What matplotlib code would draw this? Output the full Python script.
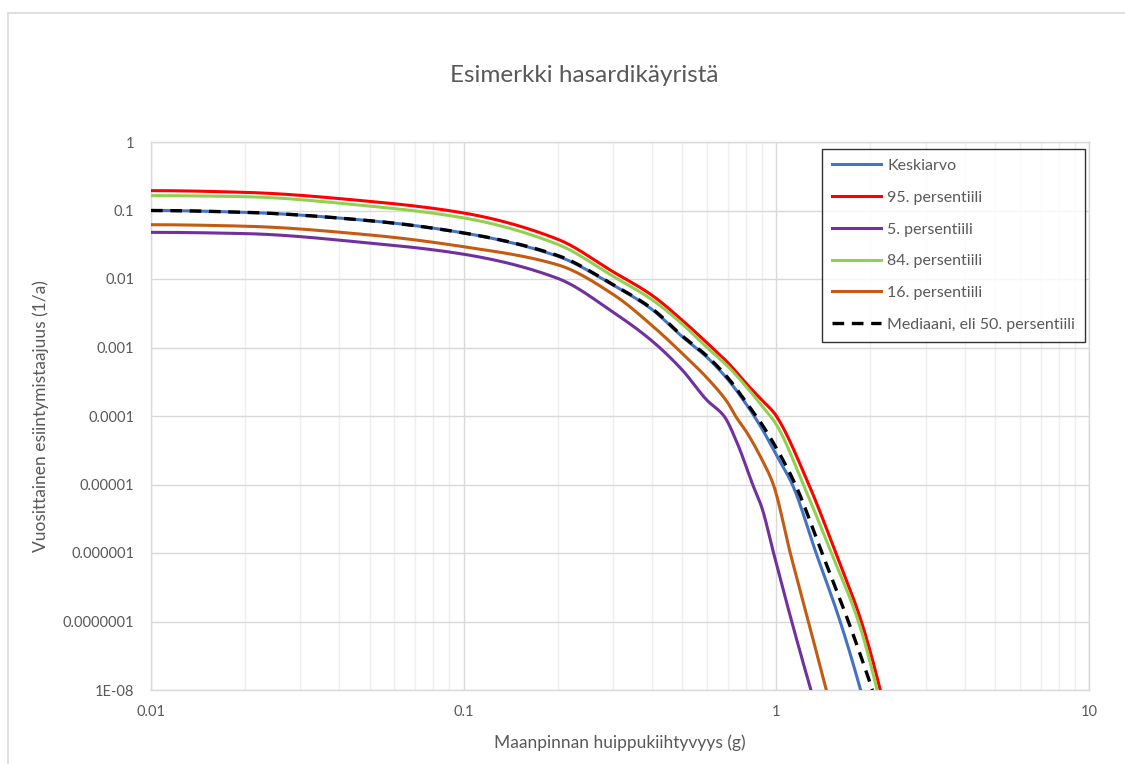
import numpy as np
import matplotlib
matplotlib.use("Agg")
import matplotlib.pyplot as plt
from matplotlib.lines import Line2D

plt.rcParams['font.family'] = ['Lato', 'DejaVu Sans']

# ---------------- data ----------------
title = "Esimerkki hasardikäyristä"
xlabel = "Maanpinnan huippukiihtyvyys (g)"
ylabel = "Vuosittainen esiintymistaajuus (1/a)"

x_ticks = [0.01, 0.1, 1, 10]
x_ticklabels = ["0.01", "0.1", "1", "10"]
y_ticks = [1e-8, 1e-7, 1e-6, 1e-5, 1e-4, 1e-3, 1e-2, 1e-1, 1]
y_ticklabels = ["1E-08", "0.0000001", "0.000001", "0.00001", "0.0001",
                "0.001", "0.01", "0.1", "1"]

mean_x = [0.01, 0.02, 0.05, 0.1, 0.2, 0.3, 0.4, 0.5, 0.6, 0.7, 0.8, 0.9, 1.0, 1.125, 1.34, 1.6, 1.86]
mean_y = [0.1, 0.094, 0.071, 0.047, 0.0215, 0.0082, 0.0036, 0.00144, 0.00072, 0.00034,
          0.00015, 6.5e-5, 2.7e-5, 1e-5, 1e-6, 1e-7, 1e-8]

p95_x = [0.01, 0.02, 0.05, 0.1, 0.2, 0.3, 0.4, 0.5, 0.6, 0.7, 0.8, 0.9, 0.97, 1.0, 1.27, 1.55, 1.87, 2.15]
p95_y = [0.195, 0.184, 0.136, 0.092, 0.038, 0.0128, 0.0058, 0.0025, 0.00117, 0.0006,
         0.0003, 0.00017, 0.00012, 0.0001, 1e-5, 1e-6, 1e-7, 1e-8]

p05_x = [0.01, 0.02, 0.05, 0.1, 0.2, 0.3, 0.4, 0.5, 0.6, 0.68, 0.75, 0.84, 0.9, 0.98, 1.12, 1.29]
p05_y = [0.048, 0.046, 0.0335, 0.023, 0.0102, 0.0033, 0.00125, 0.00047, 0.00017, 0.0001,
         4e-5, 1e-5, 4.5e-6, 1e-6, 1e-7, 1e-8]

p84_x = [0.01, 0.02, 0.05, 0.1, 0.2, 0.3, 0.4, 0.5, 0.6, 0.7, 0.8, 0.9, 1.0, 1.22, 1.5, 1.83, 2.1]
p84_y = [0.165, 0.159, 0.116, 0.078, 0.032, 0.011, 0.005, 0.0022, 0.001, 0.00053,
         0.00027, 0.00014, 7.5e-5, 1e-5, 1e-6, 1e-7, 1e-8]

p16_x = [0.01, 0.02, 0.05, 0.1, 0.2, 0.3, 0.4, 0.5, 0.6, 0.7, 0.74, 0.8, 0.9, 0.978, 1.108, 1.266, 1.445]
p16_y = [0.062, 0.059, 0.044, 0.0296, 0.0161, 0.006, 0.0021, 0.00082, 0.00036, 0.000155,
         0.0001, 6e-5, 2.3e-5, 1e-5, 1e-6, 1e-7, 1e-8]

med_x = [0.01, 0.02, 0.05, 0.1, 0.2, 0.3, 0.4, 0.5, 0.6, 0.7, 0.8, 0.9, 1.0, 1.15, 1.40, 1.70, 2.03]
med_y = [0.1, 0.094, 0.071, 0.047, 0.022, 0.0083, 0.0037, 0.00148, 0.00075, 0.00036,
         0.00016, 7.5e-5, 3.4e-5, 1e-5, 1e-6, 1e-7, 1e-8]

series_labels = ["Keskiarvo", "95. persentiili", "5. persentiili", "84. persentiili",
                 "16. persentiili", "Mediaani, eli 50. persentiili"]
series_colors = ["#4472C4", "#FF0000", "#7030A0", "#92D050", "#C55A11", "#000000"]


def pchip_slopes(x, y):
    h = np.diff(x)
    d = np.diff(y) / h
    n = len(x)
    m = np.zeros(n)
    for k in range(1, n - 1):
        if d[k - 1] * d[k] <= 0:
            m[k] = 0.0
        else:
            w1 = 2 * h[k] + h[k - 1]
            w2 = h[k] + 2 * h[k - 1]
            m[k] = (w1 + w2) / (w1 / d[k - 1] + w2 / d[k])

    def end(h0, h1, d0, d1):
        s = ((2 * h0 + h1) * d0 - h0 * d1) / (h0 + h1)
        if np.sign(s) != np.sign(d0):
            s = 0.0
        elif np.sign(d0) != np.sign(d1) and abs(s) > abs(3 * d0):
            s = 3 * d0
        return s

    m[0] = end(h[0], h[1], d[0], d[1])
    m[-1] = end(h[-1], h[-2], d[-1], d[-2])
    return m


def smooth(xs, ys, n=40):
    """Monotone cubic smoothing in log-log space."""
    lx = np.log10(np.asarray(xs, float))
    ly = np.log10(np.asarray(ys, float))
    m = pchip_slopes(lx, ly)
    ox, oy = [], []
    for k in range(len(lx) - 1):
        hk = lx[k + 1] - lx[k]
        t = np.linspace(0, 1, n, endpoint=False)
        h00 = 2 * t ** 3 - 3 * t ** 2 + 1
        h10 = t ** 3 - 2 * t ** 2 + t
        h01 = -2 * t ** 3 + 3 * t ** 2
        h11 = t ** 3 - t ** 2
        ox.append(lx[k] + t * hk)
        oy.append(h00 * ly[k] + h10 * hk * m[k] + h01 * ly[k + 1] + h11 * hk * m[k + 1])
    ox.append([lx[-1]])
    oy.append([ly[-1]])
    return 10 ** np.concatenate(ox), 10 ** np.concatenate(oy)


# ---------------- figure ----------------
fig = plt.figure(figsize=(11.25, 7.64), dpi=100)
W, H = 1125, 764
ax = fig.add_axes([151 / W, 1 - 690 / H, (1089 - 151) / W, (690 - 142) / H])

# chart-area border (light gray)
fig.add_artist(Line2D([7.5 / W, 1.0], [1 - 12.5 / H, 1 - 12.5 / H], color="#d9d9d9", lw=1.2))
fig.add_artist(Line2D([7.5 / W, 7.5 / W], [1 - 12.5 / H, 0.0], color="#d9d9d9", lw=1.2))

ax.set_xscale("log")
ax.set_yscale("log")
ax.set_xlim(0.01, 10)
ax.set_ylim(1e-8, 1)

data = [(mean_x, mean_y), (p95_x, p95_y), (p05_x, p05_y), (p84_x, p84_y),
        (p16_x, p16_y), (med_x, med_y)]
handles = []
for (xs, ys), lab, col in zip(data, series_labels, series_colors):
    sx, sy = smooth(xs, ys)
    if lab.startswith("Mediaani"):
        h, = ax.plot(sx, sy, color=col, lw=2.4, ls=(0, (3.5, 2.3)), label=lab,
                     dash_capstyle="butt", zorder=4)
    else:
        h, = ax.plot(sx, sy, color=col, lw=2.2, label=lab, zorder=3)
    handles.append(h)

ax.set_xticks(x_ticks)
ax.set_xticklabels(x_ticklabels)
ax.set_yticks(y_ticks)
ax.set_yticklabels(y_ticklabels)
ax.xaxis.set_minor_locator(matplotlib.ticker.LogLocator(base=10, subs=np.arange(2, 10)))
ax.xaxis.set_minor_formatter(matplotlib.ticker.NullFormatter())
ax.yaxis.set_minor_locator(matplotlib.ticker.NullLocator())
ax.tick_params(axis="both", which="both", length=0, labelsize=10.5, labelcolor="#595959")
ax.tick_params(axis="y", pad=12)
ax.tick_params(axis="x", pad=11)
ax.grid(True, which="major", color="#d9d9d9", lw=1.0, zorder=0)
ax.grid(True, which="minor", axis="x", color="#efefef", lw=1.0, zorder=0)
ax.set_axisbelow(True)
for s in ax.spines.values():
    s.set_color("#d9d9d9")
    s.set_linewidth(1.0)

ax.set_xlabel(xlabel, fontsize=12.5, color="#595959", labelpad=11)
ax.set_ylabel(ylabel, fontsize=12.5, color="#595959", labelpad=10)

fig.text(584 / W, 1 - 76 / H, title, fontsize=17.5, color="#595959",
         ha="center", va="center")

leg = ax.legend(handles=handles, loc="upper right",
                bbox_to_anchor=((1085 - 151) / 938, (690 - 149) / 548),
                borderaxespad=0, fancybox=False, frameon=True, fontsize=11.5,
                handlelength=3.1, handletextpad=0.38, labelspacing=1.1,
                borderpad=0.62)
leg.get_frame().set_edgecolor("#000000")
leg.get_frame().set_linewidth(1.0)
for t in leg.get_texts():
    t.set_color("#595959")

fig.savefig("out.png", dpi=100)
